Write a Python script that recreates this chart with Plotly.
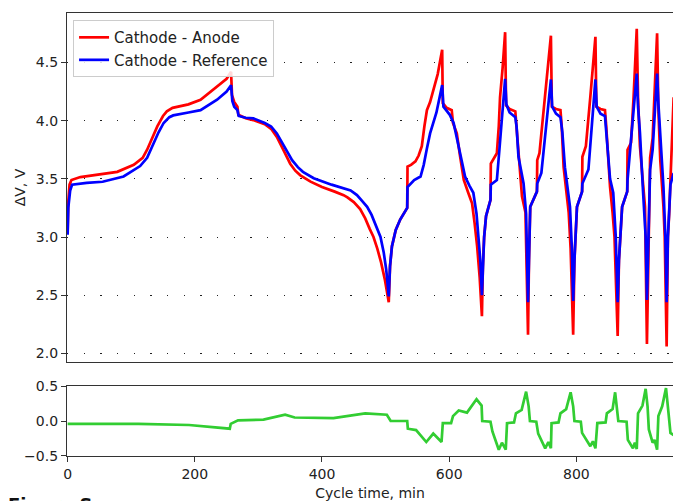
import plotly.graph_objects as go
from plotly.subplots import make_subplots

# Cathode - Anode cell voltage (V) vs cycle time (min)
t_ca = [0, 1, 3, 6, 20, 50, 78, 104, 112, 118, 125, 133, 141, 150, 156, 165, 172, 190, 209, 235, 250, 257,
        258.5, 262, 267, 268.5, 280, 292, 310, 320, 329, 340, 350, 358, 366, 382, 400, 420, 434, 440,
        450, 460, 468, 475, 481, 487, 493, 499, 505,
        507, 510, 516, 523, 534,
        534.5, 540, 547, 552, 557, 561, 565, 570, 575, 582, 589, 590, 596, 604, 606, 612, 617,
        623, 630, 636, 640, 644, 648, 651.5,
        653, 655, 658, 665,
        665.5, 675, 678, 680, 684, 688, 689.5, 695, 704, 706.5, 710, 714.5, 720, 722, 724,
        725.5, 727.5, 738,
        738.5, 742, 746, 751, 760, 761.5, 768, 775, 777, 780, 784, 788, 791, 795,
        797, 801, 809,
        809.5, 815, 818, 822, 830, 831.5, 838, 845, 847, 850, 853, 857, 860, 865,
        867, 872, 880,
        880.5, 886, 890, 895, 897, 900, 905, 908, 911,
        913, 915,
        916, 920, 923, 927, 929, 932, 937, 939, 942,
        944, 946, 948, 950, 953]
v_ca = [3.05, 3.3, 3.45, 3.49, 3.515, 3.535, 3.56, 3.62, 3.65, 3.68, 3.75, 3.85, 3.95, 4.04, 4.08, 4.11, 4.12, 4.14, 4.18, 4.29, 4.36, 4.42,
        4.22, 4.16, 4.12, 4.05, 4.02, 4.005, 3.97, 3.93, 3.86, 3.74, 3.63, 3.57, 3.53, 3.476, 3.43, 3.39, 3.36, 3.34,
        3.30, 3.24, 3.16, 3.07, 3.0, 2.9, 2.78, 2.63, 2.44,
        2.75, 2.92, 3.06, 3.15, 3.25,
        3.605, 3.62, 3.65, 3.70, 3.78, 3.95, 4.09, 4.16, 4.26, 4.40, 4.61, 4.15, 4.11, 4.09, 3.98, 3.89, 3.70,
        3.49, 3.38, 3.29, 3.12, 2.92, 2.65, 2.32,
        2.75, 3.0, 3.18, 3.32,
        3.63, 3.72, 3.95, 4.2, 4.45, 4.76, 4.13, 4.10, 4.08, 3.92, 3.65, 3.35, 3.21, 2.8, 2.16,
        2.8, 3.26, 3.39,
        3.66, 3.72, 3.95, 4.205, 4.73, 4.12, 4.10, 4.09, 3.95, 3.6, 3.4, 3.21, 2.9, 2.16,
        2.8, 3.26, 3.39,
        3.69, 3.78, 3.95, 4.205, 4.72, 4.12, 4.10, 4.09, 3.95, 3.65, 3.43, 3.21, 3.0, 2.15,
        2.8, 3.26, 3.39,
        3.75, 3.81, 4.2, 4.79, 4.2, 3.78, 3.45, 3.26, 2.08,
        2.9, 3.31,
        3.68, 3.85, 4.3, 4.75, 4.1, 3.66, 3.26, 3.0, 2.06,
        3.0, 3.2, 3.5, 3.9, 4.2]

# Cathode - Reference voltage (V)
t_cr = [0, 1, 4, 7, 30, 55, 88, 114, 125, 135, 143, 151, 160, 166, 172, 190, 209, 235, 250, 257,
        259, 262, 267, 269, 280, 292, 310, 320, 329, 340, 353, 362, 370, 387, 415, 445, 455, 463,
        471, 478, 485, 492, 497, 501, 505,
        507, 510, 516, 523, 534,
        534.5, 545, 555, 560, 565, 570, 580, 589, 591, 596, 601, 607, 612, 617, 625, 632, 638,
        643, 646, 649, 651.5,
        653, 655, 658, 665,
        665.5, 675, 679, 683, 688, 690, 695, 704, 706, 709, 717, 721, 722.5, 724,
        725.5, 727.5, 738,
        738.5, 745, 750, 754, 760, 762, 768, 775, 778, 782, 786, 790, 793, 795,
        797, 801, 809,
        809.5, 819, 825, 830, 832, 838, 845, 848, 853, 858, 862, 865,
        867, 872, 880,
        880.5, 886, 890, 895, 897, 900, 905, 909, 911,
        913, 915,
        916, 920, 923, 927, 929, 933, 937, 940, 942,
        944, 946, 948, 953]
v_cr = [3.02, 3.25, 3.40, 3.45, 3.465, 3.475, 3.52, 3.61, 3.68, 3.80, 3.90, 3.98, 4.03, 4.045, 4.05, 4.07, 4.09, 4.18, 4.25, 4.305,
        4.17, 4.12, 4.09, 4.04, 4.025, 4.02, 3.98, 3.95, 3.89, 3.78, 3.66, 3.60, 3.56, 3.505, 3.45, 3.40, 3.36, 3.31,
        3.26, 3.19, 3.10, 3.0, 2.87, 2.72, 2.49,
        2.75, 2.92, 3.06, 3.15, 3.25,
        3.43, 3.49, 3.52, 3.62, 3.76, 3.89, 4.07, 4.305, 4.12, 4.08, 4.05, 3.98, 3.85, 3.72, 3.52, 3.44, 3.38,
        3.20, 3.0, 2.8, 2.50,
        2.75, 3.0, 3.18, 3.32,
        3.45, 3.49, 3.75, 4.03, 4.36, 4.14, 4.07, 4.03, 3.95, 3.69, 3.46, 3.2, 2.9, 2.44,
        2.8, 3.26, 3.39,
        3.46, 3.55, 3.8, 4.005, 4.354, 4.12, 4.06, 4.03, 3.9, 3.6, 3.43, 3.26, 2.9, 2.45,
        2.8, 3.26, 3.39,
        3.46, 3.58, 4.005, 4.354, 4.12, 4.06, 4.04, 3.85, 3.5, 3.38, 3.0, 2.44,
        2.8, 3.26, 3.39,
        3.49, 3.86, 4.1, 4.405, 4.12, 3.9, 3.38, 3.0, 2.46,
        2.9, 3.31,
        3.58, 3.75, 4.05, 4.405, 4.15, 3.8, 3.43, 3.0, 2.44,
        3.0, 3.2, 3.45, 3.55]

# Difference between the two measurements (V)
t_diff = [0, 111, 191, 255, 256.5, 268, 308, 342, 357, 418, 468, 502, 508, 534, 535, 548, 564, 575,
          588, 590, 603, 606, 615, 628, 643, 651, 652, 665, 668, 678, 683, 689, 691, 702, 705, 714,
          721, 725, 727, 737, 740, 751, 756, 760, 761, 772, 775, 784, 791, 795, 797, 807, 809, 822,
          826, 830, 833, 846, 848, 857, 861, 865, 866, 879, 881, 889, 892, 895, 897, 904, 909, 912,
          914, 920, 923, 927, 929, 935, 941, 945, 948, 953]
dv_diff = [-0.04, -0.04, -0.057, -0.11, -0.04, 0.01, 0.02, 0.09, 0.05, 0.04, 0.11, 0.09, 0.0, 0.0,
           -0.11, -0.13, -0.30, -0.18, -0.30, -0.03, -0.03, 0.07, 0.15, 0.12, 0.31, 0.22, 0.0, -0.01,
           -0.15, -0.41, -0.31, -0.41, -0.03, -0.02, 0.11, 0.16, 0.42, 0.21, 0.0, -0.01, -0.18, -0.39,
           -0.30, -0.39, -0.03, -0.02, 0.11, 0.17, 0.41, 0.21, 0.0, -0.01, -0.17, -0.36, -0.29, -0.39,
           -0.03, -0.02, 0.11, 0.17, 0.41, 0.14, 0.0, -0.01, -0.27, -0.39, -0.31, -0.40, 0.11, 0.22,
           0.46, 0.21, -0.12, -0.31, -0.27, -0.41, 0.07, 0.21, 0.47, 0.11, -0.17, -0.2]

v_ticks = [2.0, 2.5, 3.0, 3.5, 4.0, 4.5]
dv_ticks = [-0.5, 0.0, 0.5]
t_ticks = [0, 200, 400, 600, 800]

FONT = "DejaVu Sans"

fig = make_subplots(rows=2, cols=1, shared_xaxes=True, vertical_spacing=0.0)

fig.add_trace(go.Scatter(x=t_ca, y=v_ca, mode="lines", name="Cathode - Anode",
                         line=dict(color="#ff0000", width=2.7)), row=1, col=1)
fig.add_trace(go.Scatter(x=t_cr, y=v_cr, mode="lines", name="Cathode - Reference",
                         line=dict(color="#0000ff", width=2.7)), row=1, col=1)
fig.add_trace(go.Scatter(x=t_diff, y=dv_diff, mode="lines", showlegend=False,
                         line=dict(color="#32cd32", width=2.7)), row=2, col=1)

axis_common = dict(showline=True, linecolor="#333333", linewidth=1.2, ticks="outside",
                   ticklen=5, tickwidth=1.1, tickcolor="#333333",
                   tickfont=dict(family=FONT, size=14, color="#222222"), zeroline=False)

fig.update_layout(
    width=673, height=501,
    margin=dict(l=67, r=0, t=13, b=45),
    paper_bgcolor="white", plot_bgcolor="white",
    font=dict(family=FONT, size=14, color="#222222"),
    showlegend=True,
    legend=dict(x=0.01, y=0.984, xanchor="left", yanchor="top",
                bgcolor="rgba(255,255,255,0.85)", bordercolor="#cccccc", borderwidth=1,
                font=dict(family=FONT, size=15, color="#222222"),
                tracegroupgap=0, itemwidth=30),
    xaxis=dict(domain=[0, 1], range=[-1, 952], showline=True, linecolor="#333333",
               linewidth=1.2, mirror=True, showticklabels=False, ticks="", showgrid=False,
               zeroline=False),
    yaxis=dict(domain=[0.2122, 1.0], range=[1.926, 4.925], tickvals=v_ticks,
               tickformat=".1f", showgrid=True, gridcolor="#222222", gridwidth=1.4,
               griddash="1.4px,15.27px",
               title=dict(text="ΔV, V", standoff=6, font=dict(family=FONT, size=14)),
               **axis_common),
    xaxis2=dict(domain=[0, 1], range=[-1, 952], tickvals=t_ticks, mirror=True, showgrid=False,
                title=dict(text="Cycle time, min", standoff=8, font=dict(family=FONT, size=14)),
                **axis_common),
    yaxis2=dict(domain=[0, 0.158], range=[-0.5, 0.5], tickvals=dv_ticks, tickformat=".1f",
                showgrid=False, **axis_common),
)

# Caption line at the foot of the page
fig.add_annotation(text="<b>Figure S</b>", xref="paper", yref="paper", x=-0.1, y=-0.081,
                   xanchor="left", yanchor="top", showarrow=False,
                   font=dict(family=FONT, size=18, color="#111111"))

fig.write_html("out.html")
